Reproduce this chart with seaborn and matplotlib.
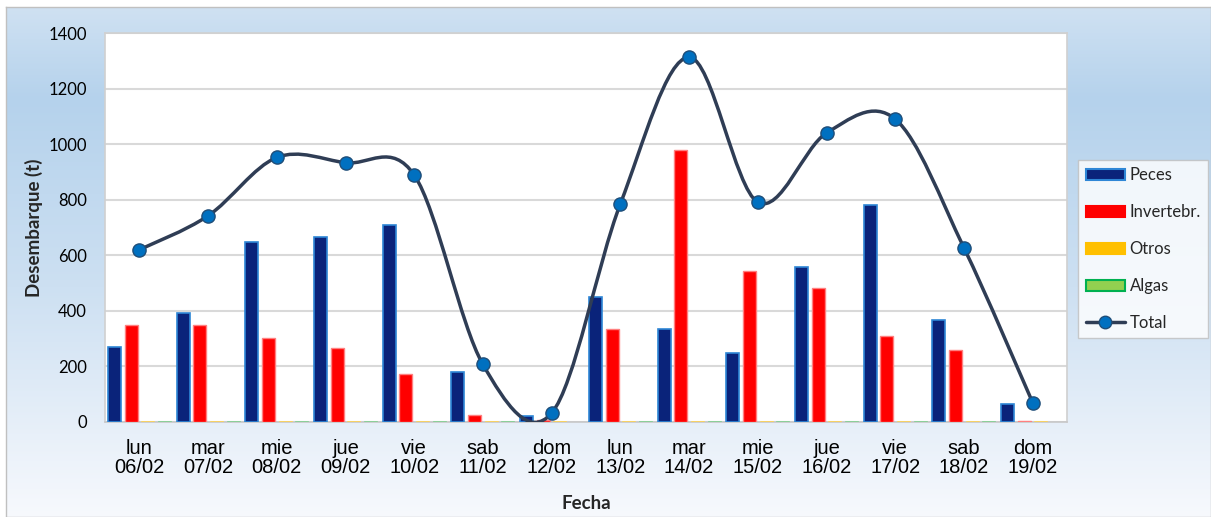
import numpy as np
import pandas as pd
import matplotlib
matplotlib.use("Agg")
import matplotlib.pyplot as plt
import seaborn as sns
from matplotlib.colors import LinearSegmentedColormap
from matplotlib.patches import Patch, PathPatch
from matplotlib.lines import Line2D
from matplotlib.path import Path

# Data
dias = ["lun\n06/02", "mar\n07/02", "mie\n08/02", "jue\n09/02", "vie\n10/02",
        "sab\n11/02", "dom\n12/02", "lun\n13/02", "mar\n14/02", "mie\n15/02",
        "jue\n16/02", "vie\n17/02", "sab\n18/02", "dom\n19/02"]
peces = [270, 392, 648, 666, 709, 181, 20, 450, 335, 249, 558, 781, 368, 64]
invertebr = [348, 348, 302, 265, 174, 24, 8, 333, 979, 543, 482, 309, 259, 5]
otros = [4, 4, 4, 4, 4, 4, 4, 4, 4, 4, 4, 4, 4, 4]
algas = [4, 4, 4, 4, 4, 4, 0, 4, 4, 4, 4, 4, 4, 0]
total = [620, 742, 952, 933, 889, 207, 32, 785, 1313, 791, 1040, 1090, 627, 70]

series = ["Peces", "Invertebr.", "Otros", "Algas"]
fills = ["#0a237a", "#ff0000", "#ffc000", "#92d050"]
edges = ["#2e86d6", "#ff8080", "#ffd766", "#7fd0a0"]
bar_lw = [1.2, 1.0, 0.5, 0.5]

df = pd.DataFrame({"dia": dias, "Peces": peces, "Invertebr.": invertebr,
                   "Otros": otros, "Algas": algas})
long = df.melt(id_vars="dia", var_name="serie", value_name="t")

sns.set_theme(style="white")
plt.rcParams["font.family"] = ["Lato", "DejaVu Sans"]

fig = plt.figure(figsize=(12.11, 5.17), dpi=100)
fig.patch.set_facecolor("white")

# gradient chart-area background
bg = fig.add_axes([6 / 1211, 0, 1 - 6 / 1211, 1 - 7 / 517])
cmap = LinearSegmentedColormap.from_list(
    "bg", [(0, "#cfe1f2"), (0.18, "#b5d2ec"), (0.55, "#cde0f2"), (1.0, "#f7f9fd")])
bg.imshow(np.linspace(0, 1, 256).reshape(-1, 1), aspect="auto", cmap=cmap,
          extent=[0, 1, 0, 1], origin="upper")
bg.set_xticks([])
bg.set_yticks([])
for s in bg.spines.values():
    s.set_color("#c0c0c0")
    s.set_linewidth(1)

ax = fig.add_axes([105 / 1211, 1 - 422 / 517, 962 / 1211, 389 / 517])
ax.set_facecolor("white")

sns.barplot(data=long, x="dia", y="t", hue="serie", hue_order=series,
            palette=fills, width=0.97, gap=0.22, ax=ax, legend=False,
            saturation=1, zorder=3)
for cont, ec, lw in zip(ax.containers, edges, bar_lw):
    for bar in cont:
        bar.set_edgecolor(ec)
        bar.set_linewidth(lw)

# smoothed total line (Excel-style bezier through the points)
xs = np.arange(len(total), dtype=float)
ys = np.array(total, dtype=float)
verts = [(xs[0], ys[0])]
codes = [Path.MOVETO]
n = len(xs)
for i in range(n - 1):
    p0 = np.array([xs[max(i - 1, 0)], ys[max(i - 1, 0)]])
    p1 = np.array([xs[i], ys[i]])
    p2 = np.array([xs[i + 1], ys[i + 1]])
    p3 = np.array([xs[min(i + 2, n - 1)], ys[min(i + 2, n - 1)]])
    c1 = p1 + (p2 - p0) / 6
    c2 = p2 - (p3 - p1) / 6
    verts += [tuple(c1), tuple(c2), tuple(p2)]
    codes += [Path.CURVE4] * 3
ax.add_patch(PathPatch(Path(verts, codes), facecolor="none", edgecolor="#2f3d55",
                       lw=2.5, zorder=4))
ax.plot(xs, ys, ls="none", marker="o", ms=9.5, mfc="#0070c0", mec="#1f4e79",
        mew=1, zorder=5)

ax.set_ylim(0, 1400)
ax.set_xlim(-0.5, len(dias) - 0.5)
ax.set_yticks(range(0, 1401, 200))
ax.yaxis.grid(True, color="#d9d9d9", lw=1.5, zorder=0)
ax.set_axisbelow(True)
ax.tick_params(axis="y", length=0, labelsize=12, pad=13, colors="black")
ax.set_xticks(range(len(dias)))
ax.set_xticklabels(dias, fontsize=14.5, family=["Liberation Sans", "DejaVu Sans"],
                   linespacing=1.05)
ax.tick_params(axis="x", length=0, pad=12, colors="black")
ax.set_xticks(np.arange(-0.5, len(dias), 1), minor=True)
ax.tick_params(axis="x", which="minor", length=6, color="#c8c8c8", width=1.2)
for s in ax.spines.values():
    s.set_color("#d0d0d0")
    s.set_linewidth(1.2)
ax.spines["bottom"].set_color("#c8c8c8")

ax.set_xlabel("Fecha", fontsize=13.5, fontweight="bold", labelpad=13)
ax.set_ylabel("Desembarque (t)", fontsize=13.5, fontweight="bold", labelpad=4)

handles = [Patch(facecolor=f, edgecolor=e, lw=1.5)
           for f, e in zip(fills, ["#2e86d6", "#ff0000", "#ffc000", "#00b050"])]
handles.append(Line2D([0], [0], color="#2f3d55", lw=2.5, marker="o", ms=9,
                      mfc="#0070c0", mec="#1f4e79"))
leg = fig.legend(handles, series + ["Total"], loc="upper left",
                 bbox_to_anchor=(1078 / 1211, 1 - 160 / 517), frameon=True,
                 fancybox=False, fontsize=12, handlelength=2.35,
                 handleheight=0.65, labelspacing=1.25, handletextpad=0.3,
                 borderpad=0.45, borderaxespad=0)
leg.get_frame().set_edgecolor("#bfbfbf")
leg.get_frame().set_linewidth(1)

fig.savefig("out.png", dpi=100)
